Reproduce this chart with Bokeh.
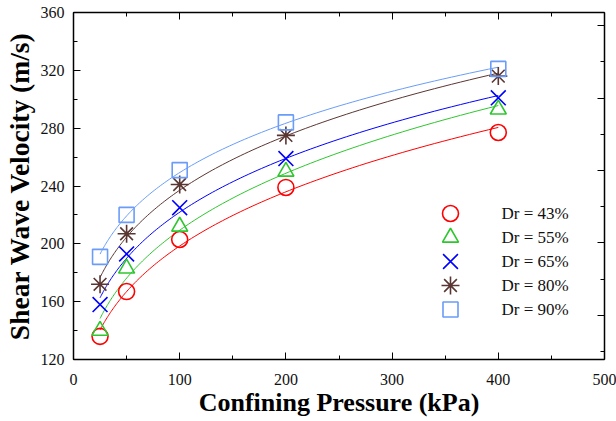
import numpy as np
from bokeh.plotting import figure
from bokeh.models import (Range1d, LinearAxis, FixedTicker, SingleIntervalTicker,
                          ColumnDataSource, CustomJSTickFormatter)
from bokeh.core.properties import value
from bokeh.embed import file_html
from bokeh.resources import INLINE

# ---- data ----
pressure = [25, 50, 100, 200, 400]
vs_43 = [136, 167, 203, 239, 277]
vs_55 = [140, 183, 212, 250, 293]
vs_65 = [158, 193, 225, 259, 301]
vs_80 = [172, 207, 241, 275, 316]
vs_90 = [191, 220, 251, 284, 321]
labels = ["Dr = 43%", "Dr = 55%", "Dr = 65%", "Dr = 80%", "Dr = 90%"]
series = [vs_43, vs_55, vs_65, vs_80, vs_90]

colors = ["#FF0000", "#2EC62E", "#0000FF", "#5A3632", "#6A9CF8"]
markers = ["circle", "triangle", "x", "asterisk", "square"]
marker_sizes = [16, 16, 21, 18, 15]

FW, FH = 531, 347
p = figure(frame_width=FW, frame_height=FH, x_range=Range1d(0, 500), y_range=Range1d(120, 360),
           output_backend="svg", toolbar_location=None,
           min_border_left=72, min_border_right=13, min_border_top=12, min_border_bottom=62)
p.background_fill_color = "white"
p.border_fill_color = "white"
p.outline_line_color = None
p.xgrid.visible = False
p.ygrid.visible = False

p.extra_x_ranges = {"px": Range1d(0, FW)}
p.extra_y_ranges = {"px": Range1d(0, FH), "right": Range1d(0, 347 / 36.2)}

tick_font = "Liberation Serif"
blank = CustomJSTickFormatter(code="return ''")

xa = p.xaxis[0]
xa.ticker = SingleIntervalTicker(interval=100, num_minor_ticks=2)
ya = p.yaxis[0]
ya.ticker = SingleIntervalTicker(interval=40, num_minor_ticks=2)
for ax in (xa, ya):
    ax.major_tick_in = 7
    ax.major_tick_out = 0
    ax.minor_tick_in = 4
    ax.minor_tick_out = 0
    ax.axis_line_width = 1.5
    ax.axis_line_color = "black"
    ax.major_tick_line_color = "black"
    ax.minor_tick_line_color = "black"
    ax.major_label_text_font = tick_font
    ax.major_label_text_font_size = "16px"
    ax.major_label_text_color = "#111111"
    ax.axis_label_text_font = "Liberation Serif"
    ax.axis_label_text_font_style = "bold"
    ax.axis_label_text_color = "black"
xa.major_label_standoff = 14
ya.major_label_standoff = 9
xa.axis_label = "Confining Pressure (kPa)"
xa.axis_label_text_font_size = "26px"
xa.axis_label_standoff = 0
ya.axis_label = "Shear Wave Velocity (m/s)"
ya.axis_label_text_font_size = "27.5px"
ya.axis_label_standoff = 3

# top axis (no labels)
top = LinearAxis(ticker=SingleIntervalTicker(interval=100, num_minor_ticks=2), formatter=blank,
                 major_tick_in=7, major_tick_out=0, minor_tick_in=4, minor_tick_out=0,
                 axis_line_width=1.5, major_label_standoff=0)
p.add_layout(top, "above")

# right axis (independent tick spacing, no labels)
r_major = [1.22, 3.22, 5.22, 7.22, 9.22]
r_minor = [0.22, 2.22, 4.22, 6.22, 8.22]
right = LinearAxis(y_range_name="right", ticker=FixedTicker(ticks=r_major, minor_ticks=r_minor),
                   formatter=blank,
                   major_tick_in=7, major_tick_out=0, minor_tick_in=4, minor_tick_out=0,
                   axis_line_width=1.5, major_label_standoff=0)
p.add_layout(right, "right")

# fitted power-law curves (least squares in linear space: y = a * x^b)
x_arr = np.asarray(pressure, dtype=float)
xs_fit = np.geomspace(x_arr.min(), x_arr.max(), 120)
b_grid = np.linspace(0.05, 0.6, 2201)
for vals, lc in zip(series, colors):
    y_arr = np.asarray(vals, dtype=float)
    best = None
    for b in b_grid:
        xb = x_arr ** b
        a = (y_arr * xb).sum() / (xb * xb).sum()
        err = ((y_arr - a * xb) ** 2).sum()
        if best is None or err < best[0]:
            best = (err, a, b)
    _, a, b = best
    p.line(xs_fit, a * xs_fit ** b, line_color=lc, line_width=1)

# data markers
for vals, c, m, s in zip(series, colors, markers, marker_sizes):
    p.scatter(pressure, vals, marker=m, size=s, fill_color=None, line_color=c, line_width=1.6)

# legend drawn in frame pixel coordinates
leg_y = [146, 122, 98, 74, 50]
for yy, c, m, s in zip(leg_y, colors, markers, marker_sizes):
    p.scatter([377], [yy], marker=m, size=s, fill_color=None, line_color=c, line_width=1.6,
              x_range_name="px", y_range_name="px")
src = ColumnDataSource(dict(x=[428] * 5, y=leg_y, t=labels))
p.text(x="x", y="y", text="t", source=src, x_range_name="px", y_range_name="px",
       text_font=value("Liberation Serif"), text_font_size="17px", text_baseline="middle",
       text_align="left", text_color="#111111")

open("out.html", "w").write(file_html(p, INLINE))
